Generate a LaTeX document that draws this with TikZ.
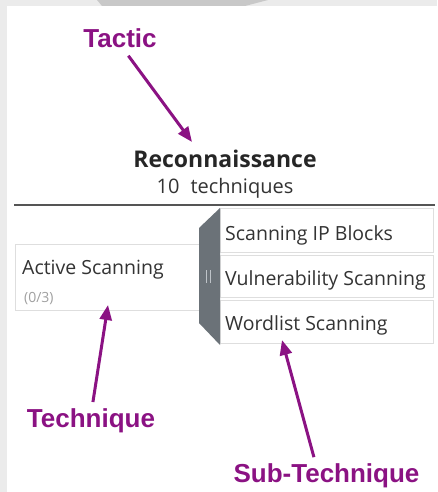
\documentclass[tikz,border=0pt]{standalone}
\usepackage{fontspec}
\newfontfamily\uifont{Open Sans}
\newfontfamily\lblfont{Liberation Sans}
\usetikzlibrary{arrows.meta}
\definecolor{tagpurple}{RGB}{139,18,131}
\definecolor{panelgray}{RGB}{235,235,235}
\definecolor{arcgray}{RGB}{200,200,200}
\definecolor{rulegray}{RGB}{85,85,85}
\definecolor{boxline}{RGB}{222,222,222}
\definecolor{bargray}{RGB}{107,114,120}
\definecolor{barmark}{RGB}{190,195,200}
\definecolor{inkgray}{RGB}{51,51,51}
\definecolor{countgray}{RGB}{160,160,160}
\begin{document}
\begin{tikzpicture}[x=1pt, y=-1pt,
    tag/.style={font=\lblfont\bfseries\fontsize{26}{30}\selectfont, text=tagpurple,
                inner sep=0pt, anchor=base},
    arr/.style={-{Triangle[length=15pt,width=12pt]}, line width=3pt, draw=tagpurple},
    ui/.style={font=\uifont\fontsize{#1}{#1}\selectfont, text=inkgray,
               inner sep=0pt, anchor=base west},
    ui/.default=19.5,
    cell/.style={draw=boxline, line width=1pt, fill=white, inner sep=0pt,
                 minimum width=#1},
]
\useasboundingbox (0,0) rectangle (437,492);
% screenshot background
\fill[panelgray] (0,0) rectangle (437,492);
\fill[white] (7,6) rectangle (437,492);
\fill[arcgray] (97,0) -- (102,6) -- (245,6) -- (268,0) -- cycle;

% tactic header
\node[ui=23, anchor=base, text=black!85] (recon) at (225,167) {\bfseries Reconnaissance};
\node[ui=20, anchor=base] (count) at (225,193) {10\hspace{0.55em}techniques};
\draw[rulegray, line width=2pt] (14,205) -- (435,205);

% technique cell
\node[cell=184pt, minimum height=66pt] (activebox) at (107,277) {};
\node[ui] (activename) at (22,274) {Active Scanning};
\node[ui=14, text=countgray] (activecount) at (24,302) {(0/3)};

% sub-technique cells
\node[cell=213pt, minimum height=44pt] (ipbox)   at (326.5,230)   {};
\node[cell=213pt, minimum height=42pt] (vulnbox) at (326.5,276)   {};
\node[cell=213pt, minimum height=43pt] (wordbox) at (326.5,321.5) {};
\node[ui] (iptext)   at (225,240) {Scanning IP Blocks};
\node[ui] (vulntext) at (225,285) {Vulnerability Scanning};
\node[ui] (wordtext) at (225,330) {Wordlist Scanning};

% sidebar
\fill[bargray] (199,228) -- (220,208) -- (220,345) -- (199,323) -- cycle;
\draw[barmark, line width=1pt] (206.5,270) -- (206.5,283) (210,270) -- (210,283);

% annotations
\node[tag] (tacticlbl)  at (120,48)    {Tactic};
\node[tag] (techlbl)    at (91,427)    {Technique};
\node[tag] (subtechlbl) at (326.5,482) {Sub-Technique};
\coordinate (tactictip)  at (192,142);
\coordinate (techtip)    at (108,305);
\coordinate (subtechtip) at (282,340);
\draw[arr, shorten <=9pt] ([xshift=3pt]tacticlbl.south) -- (tactictip);
\draw[arr, shorten <=6pt] ([xshift=1pt]techlbl.north) -- (techtip);
\draw[arr, shorten <=6pt] ([xshift=-11pt]subtechlbl.north) -- (subtechtip);
\end{tikzpicture}
\end{document}
